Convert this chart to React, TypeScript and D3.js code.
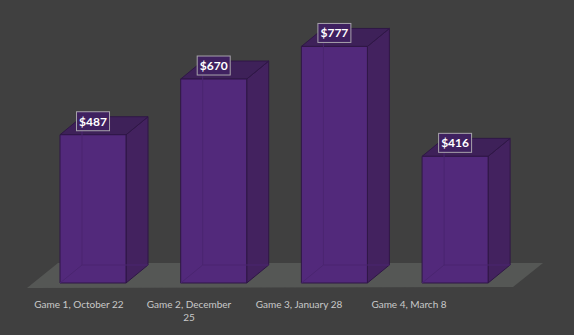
import React from "react";
import * as d3 from "d3";

const categories = ["Game 1, October 22", "Game 2, December 25", "Game 3, January 28", "Game 4, March 8"];
const labelLines = [["Game 1, October 22"], ["Game 2, December", "25"], ["Game 3, January 28"], ["Game 4, March 8"]];
const values = [487, 670, 777, 416];

const W = 574, H = 335;
const DX = 22, DY = 18;

export default function App() {
  const x = d3.scaleBand<string>().domain(categories).range([41.9, 506.2]).paddingInner(0.453).paddingOuter(0.15);
  const y = d3.scaleLinear().domain([0, 900]).range([283, 9]);
  const lx = d3.scalePoint<string>().domain(categories).range([79, 409]);
  const bw = x.bandwidth();
  const y0 = y(0);
  const floor = `M27,${y0 + 5} L513,${y0 + 4} L543,${y0 - 20} L58,${y0 - 20} Z`;
  const fmt = (v: number) => "$" + d3.format(",")(v);

  return (
    <svg width={W} height={H} style={{ position: "absolute", left: 0, top: 0, background: "#404040" }}>
      <rect width={W} height={H} fill="#404040" />
      <path d={floor} fill="#555755" />
      {categories.map((c, i) => {
        const x0 = x(c)!;
        const x1 = x0 + bw;
        const yt = y(values[i]);
        const front = `M${x0},${yt} L${x1},${yt} L${x1},${y0} L${x0},${y0} Z`;
        const side = `M${x1},${yt} L${x1 + DX},${yt - DY} L${x1 + DX},${y0 - DY} L${x1},${y0} Z`;
        const top = `M${x0},${yt} L${x0 + DX},${yt - DY} L${x1 + DX},${yt - DY} L${x1},${yt} Z`;
        const hidden = `M${x0 + DX},${yt - DY} L${x0 + DX},${y0 - DY} L${x1 + DX},${y0 - DY} M${x0},${y0} L${x0 + DX},${y0 - DY}`;
        return (
          <g key={c}>
            <path d={side} fill="#43225f" stroke="#2f1746" strokeWidth={1} strokeLinejoin="round" />
            <path d={top} fill="#3e2159" stroke="#2f1746" strokeWidth={1} strokeLinejoin="round" />
            <path d={front} fill="#52297b" stroke="#2f1746" strokeWidth={1} strokeLinejoin="round" />
            <path d={hidden} fill="none" stroke="#4a2570" strokeWidth={1} />
          </g>
        );
      })}
      {categories.map((c, i) => {
        const cx = x(c)! + bw / 2;
        const yt = y(values[i]);
        const bh = 19, bwid = 33;
        return (
          <g key={c + "l"}>
            <rect x={cx - bwid / 2} y={yt - 4 - bh} width={bwid} height={bh} fill="#3f2160" stroke="#a7a3ab" strokeWidth={1} />
            <text x={cx} y={yt - 4 - bh / 2 + 4.5} textAnchor="middle" fill="#ffffff" fontFamily="Lato, 'Open Sans', sans-serif" fontWeight="bold" fontSize={12}>
              {fmt(values[i])}
            </text>
          </g>
        );
      })}
      {categories.map((c, i) => (
        <text key={c + "a"} x={lx(c)} textAnchor="middle" fill="#c9c9c9" fontFamily="Lato, 'Open Sans', sans-serif" fontSize={10}>
          {labelLines[i].map((ln, j) => (
            <tspan key={j} x={lx(c)} y={307.5 + j * 13}>{ln}</tspan>
          ))}
        </text>
      ))}
    </svg>
  );
}
